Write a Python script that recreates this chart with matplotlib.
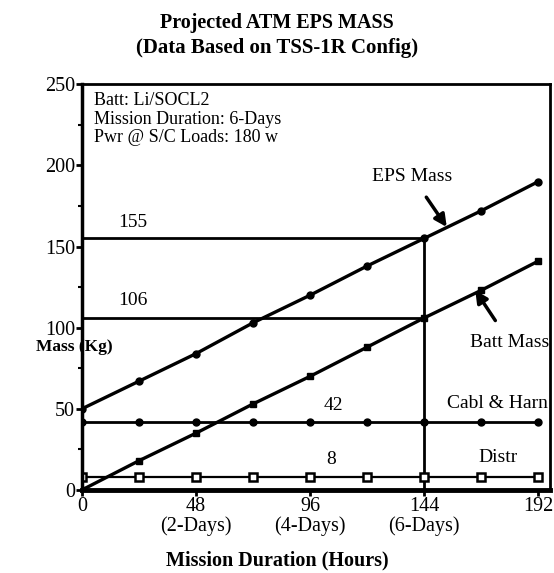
import matplotlib.pyplot as plt
import numpy as np

plt.rcParams['font.family'] = ['Liberation Serif', 'DejaVu Serif']

# data
hours = [0, 24, 48, 72, 96, 120, 144, 168, 192]
eps_mass = [50, 67, 84, 103, 120, 138, 155, 172, 190]
batt_mass = [0, 18, 35, 53, 70, 88, 106, 123, 141]
cabl_harn = [42, 42, 42, 42, 42, 42, 42, 42, 42]
distr = [8, 8, 8, 8, 8, 8, 8, 8, 8]

ref_hour = 144
ref_eps = 155
ref_batt = 106

xticks = [0, 48, 96, 144, 192]
xticklabels = ["0", "48\n(2-Days)", "96\n(4-Days)", "144\n(6-Days)", "192"]
yticks = [0, 50, 100, 150, 200, 250]

fig = plt.figure(figsize=(5.54, 5.73), dpi=100)
ax = fig.add_axes([0.148, 0.145, 0.845, 0.708])

# reference lines at 6 days
ax.plot([0, ref_hour], [ref_eps, ref_eps], color='black', lw=2.0)
ax.plot([0, ref_hour], [ref_batt, ref_batt], color='black', lw=2.0)
ax.plot([ref_hour, ref_hour], [0, ref_eps], color='black', lw=2.0)

ax.plot(hours, eps_mass, color='black', lw=2.4, marker='o', ms=5)
ax.plot(hours, batt_mass, color='black', lw=2.4, marker='s', ms=5)
ax.plot(hours, cabl_harn, color='black', lw=2.0, marker='o', ms=5)
ax.plot(hours, distr, color='black', lw=1.6, marker='s', ms=6,
        mfc='white', mew=1.8)

ax.set_xlim(0, 197)
ax.set_ylim(0, 250)
ax.set_xticks(xticks)
ax.set_xticklabels(xticklabels, fontsize=14.5, linespacing=1.0)
ax.set_yticks(yticks)
ax.set_yticklabels([str(v) for v in yticks], fontsize=14.5)
ax.set_yticks(np.arange(25, 250, 50), minor=True)
ax.tick_params(axis='both', direction='out', length=4, width=2, pad=1)
ax.tick_params(axis='y', which='minor', direction='out', length=3, width=1.5)

ax.spines['left'].set_linewidth(2.5)
ax.spines['bottom'].set_linewidth(3.5)
ax.spines['top'].set_linewidth(2.0)
ax.spines['right'].set_linewidth(2.0)

ax.text(0.025, 0.98, "Batt: Li/SOCL2\nMission Duration: 6-Days\nPwr @ S/C Loads: 180 w",
        transform=ax.transAxes, va='top', ha='left', fontsize=13, linespacing=1.1)

ax.text(21.5, 165, "155", fontsize=14, ha='center', va='center')
ax.text(21.5, 117, "106", fontsize=14, ha='center', va='center')
ax.text(106, 52, "42", fontsize=14, ha='center', va='center')
ax.text(105, 19, "8", fontsize=14, ha='center', va='center')
ax.text(175, 53, "Cabl & Harn", fontsize=14, ha='center', va='center')
ax.text(175, 20, "Distr", fontsize=14, ha='center', va='center')

ax.annotate("EPS Mass", xy=(153.5, 162), xytext=(139, 193), fontsize=14,
            ha='center', va='center',
            arrowprops=dict(arrowstyle='-|>', color='black', lw=2.5,
                            mutation_scale=18, shrinkA=8, shrinkB=0))
ax.annotate("Batt Mass", xy=(165.5, 123), xytext=(180, 91), fontsize=14,
            ha='center', va='center', annotation_clip=False,
            arrowprops=dict(arrowstyle='-|>', color='black', lw=2.5,
                            mutation_scale=18, shrinkA=9, shrinkB=0))

fig.text(0.5, 0.96, "Projected ATM EPS MASS", ha='center', va='center',
         fontsize=14.5, fontweight='bold')
fig.text(0.5, 0.916, "(Data Based on TSS-1R Config)", ha='center', va='center',
         fontsize=15, fontweight='bold')
fig.text(0.5, 0.022, "Mission Duration (Hours)", ha='center', va='center',
         fontsize=14.5, fontweight='bold')
fig.text(0.135, 0.394, "Mass (Kg)", ha='center', va='center',
         fontsize=12.5, fontweight='bold')

plt.savefig("out.png", dpi=100)
